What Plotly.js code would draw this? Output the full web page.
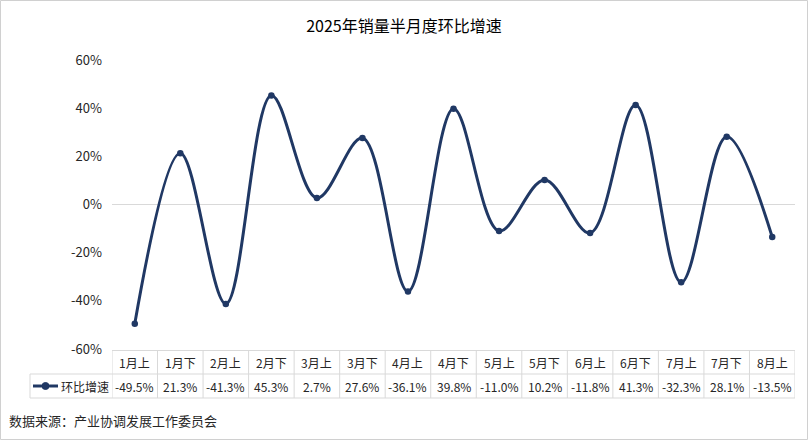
<!DOCTYPE html>
<html><head><meta charset="utf-8">
<script src="https://cdn.plot.ly/plotly-3.0.1.min.js"></script>
<style>html,body{margin:0;padding:0;background:#fff}#c{width:808px;height:440px}</style>
</head><body><div id="c"></div>
<script>
const categories = ["1月上","1月下","2月上","2月下","3月上","3月下","4月上","4月下","5月上","5月下","6月上","6月下","7月上","7月下","8月上"];
const growth = [-49.5,21.3,-41.3,45.3,2.7,27.6,-36.1,39.8,-11.0,10.2,-11.8,41.3,-32.3,28.1,-13.5];
const seriesName = "环比增速";
const titleText = "2025年销量半月度环比增速";
const sourceText = "数据来源：产业协调发展工作委员会";
const yTicks = [-60,-40,-20,0,20,40,60];

const W=808,H=440, L=112, R=795, T=60, B=349;
const px2x = p => (p-L)/(R-L);
const py2y = p => (B-p)/(B-T);
const font = "'Noto Sans CJK SC', 'Noto Sans', sans-serif";
const lineColor = "#203864", gridC = "#d9d9d9", txt = "#262626";

const n = categories.length;
const idx = categories.map((c,i)=>i);
const shapes = [], annotations = [];
const rowTop = 350.5, rowMid = 374, rowBot = 398;
shapes.push({type:'line',xref:'paper',yref:'paper',x0:0,x1:1,y0:py2y(rowTop),y1:py2y(rowTop),line:{color:gridC,width:1}});
shapes.push({type:'line',xref:'paper',yref:'paper',x0:px2x(30),x1:1,y0:py2y(rowMid),y1:py2y(rowMid),line:{color:gridC,width:1}});
shapes.push({type:'line',xref:'paper',yref:'paper',x0:px2x(30),x1:1,y0:py2y(rowBot),y1:py2y(rowBot),line:{color:gridC,width:1}});
shapes.push({type:'line',xref:'paper',yref:'paper',x0:px2x(30),x1:px2x(30),y0:py2y(rowMid),y1:py2y(rowBot),line:{color:gridC,width:1}});
for(let i=0;i<=n;i++){
  shapes.push({type:'line',xref:'x',yref:'paper',x0:i-0.5,x1:i-0.5,y0:py2y(rowTop),y1:py2y(rowBot),line:{color:gridC,width:1}});
}
categories.forEach((c,i)=>{
  annotations.push({xref:'x',yref:'paper',x:i,y:py2y((rowTop+rowMid)/2),text:c,showarrow:false,font:{family:font,size:12,color:txt},xanchor:'center',yanchor:'middle'});
  annotations.push({xref:'x',yref:'paper',x:i,y:py2y((rowMid+rowBot)/2),text:growth[i].toFixed(1)+'%',showarrow:false,font:{family:font,size:12,color:txt},xanchor:'center',yanchor:'middle'});
});
const ly = py2y((rowMid+rowBot)/2);
shapes.push({type:'line',xref:'paper',yref:'paper',x0:px2x(33),x1:px2x(58),y0:ly,y1:ly,line:{color:lineColor,width:3}});
shapes.push({type:'circle',xref:'paper',yref:'paper',xsizemode:'pixel',ysizemode:'pixel',xanchor:px2x(45.5),yanchor:ly,x0:-3.5,x1:3.5,y0:-3.5,y1:3.5,fillcolor:lineColor,line:{color:lineColor,width:1}});
annotations.push({xref:'paper',yref:'paper',x:px2x(59),y:ly,text:seriesName,showarrow:false,font:{family:font,size:12,color:txt},xanchor:'left',yanchor:'middle'});
annotations.push({xref:'paper',yref:'paper',x:px2x(7),y:py2y(420),text:sourceText,showarrow:false,font:{family:font,size:13,color:txt},xanchor:'left',yanchor:'middle'});
shapes.push({type:'rect',xref:'paper',yref:'paper',x0:px2x(0.5),x1:px2x(W-0.5),y0:py2y(0.5),y1:py2y(H-0.5),line:{color:'#d0d0d0',width:1},fillcolor:'rgba(0,0,0,0)'});

const trace = {
  x: idx, y: growth, name: seriesName, type:'scatter', mode:'lines+markers',
  line:{color:lineColor,width:3,shape:'spline',smoothing:1},
  marker:{color:lineColor,size:6.5}, hoverinfo:'skip', cliponaxis:false
};
const layout = {
  width:W,height:H,margin:{l:L,r:W-R,t:T,b:H-B},
  paper_bgcolor:'#fff',plot_bgcolor:'#fff',showlegend:false,
  title:{text:titleText,x:0.5,xanchor:'center',y:1-26/H,yanchor:'middle',font:{family:font,size:16,color:'#000'}},
  xaxis:{range:[-0.5,n-0.5],showticklabels:false,showgrid:false,zeroline:false,showline:false,ticks:'',fixedrange:true},
  yaxis:{range:[-60,60],tickvals:yTicks,ticktext:yTicks.map(v=>v+'%'),showgrid:false,zeroline:true,zerolinecolor:gridC,zerolinewidth:1,
    showline:false,ticks:'',tickfont:{family:font,size:13,color:txt},ticklabelstandoff:9,automargin:false,fixedrange:true},
  shapes, annotations
};
Plotly.newPlot('c',[trace],layout,{staticPlot:true,displayModeBar:false});
</script></body></html>
